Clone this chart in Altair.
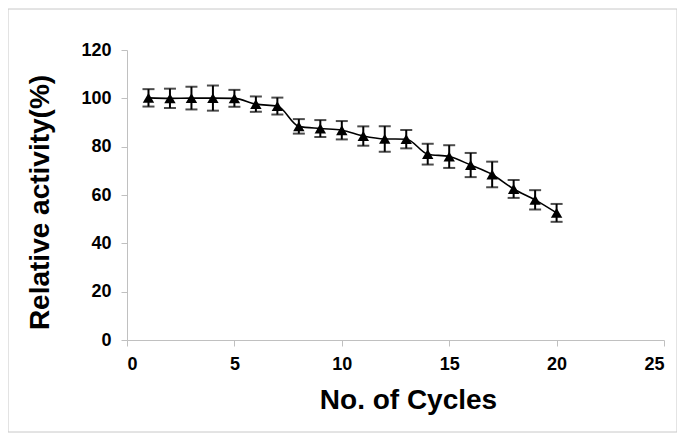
import altair as alt
import pandas as pd

cycles = list(range(1, 21))
activity = [100.2, 100.0, 100.1, 100.1, 100.0, 97.6, 96.8, 88.4, 87.5, 86.8,
            84.4, 83.2, 83.1, 76.9, 75.9, 72.4, 68.5, 62.5, 58.0, 52.6]
err = [3.6, 4.0, 4.7, 5.2, 3.5, 3.2, 3.5, 3.0, 3.5, 3.8,
       4.0, 5.3, 3.8, 4.3, 4.7, 5.0, 5.3, 3.7, 4.0, 3.7]

df = pd.DataFrame({"cycle": cycles, "act": activity, "err": err})
df["lo"] = df["act"] - df["err"]
df["hi"] = df["act"] + df["err"]

W, H = 537, 290
FONT = "Liberation Sans"

xs = alt.Scale(domain=[0, 25], nice=False)
ys = alt.Scale(domain=[0, 120], nice=False)

xax = alt.Axis(values=[0, 5, 10, 15, 20, 25], title="No. of Cycles", grid=False,
               domainColor="#c0c0c0", tickColor="#c0c0c0", tickSize=6,
               labelFont=FONT, labelFontSize=18, labelFontWeight="bold", labelColor="black",
               labelPadding=9, titleFont=FONT, titleFontSize=28, titleFontWeight="bold",
               titleColor="black", titlePadding=13, titleX=281)
yax = alt.Axis(values=[0, 20, 40, 60, 80, 100, 120], title="Relative activity(%)", grid=False,
               domainColor="#c0c0c0", tickColor="#c0c0c0", tickSize=6,
               labelFont=FONT, labelFontSize=18, labelFontWeight="bold", labelColor="black",
               labelPadding=10, titleFont=FONT, titleFontSize=28, titleFontWeight="bold",
               titleColor="black", titlePadding=26, titleY=152)

base = alt.Chart(df)

line = base.mark_line(color="black", strokeWidth=1.6, interpolate="monotone").encode(
    x=alt.X("cycle:Q", scale=xs, axis=xax),
    y=alt.Y("act:Q", scale=ys, axis=yax),
)
rules = base.mark_rule(color="black", strokeWidth=2).encode(
    x="cycle:Q", y="lo:Q", y2="hi:Q")
cap_lo = base.mark_tick(color="black", orient="horizontal", size=12, thickness=2).encode(
    x="cycle:Q", y="lo:Q")
cap_hi = base.mark_tick(color="black", orient="horizontal", size=12, thickness=2).encode(
    x="cycle:Q", y="hi:Q")
pts = base.mark_point(shape="triangle-up", filled=True, color="black", size=130, opacity=1).encode(
    x="cycle:Q", y="act:Q")

frame = alt.Chart(pd.DataFrame({"k": [0]})).mark_rect(
    fill=None, stroke="#c8c8c8", strokeWidth=1).encode(
    x=alt.value(-119), x2=alt.value(W + 13), y=alt.value(-41), y2=alt.value(H + 92))

chart = alt.layer(frame, line, rules, cap_lo, cap_hi, pts).properties(
    width=W, height=H,
    autosize=alt.AutoSizeParams(type="none"),
    padding={"left": 119, "top": 42, "right": 13, "bottom": 93},
).configure_view(stroke=None)

chart.save("out.html", embed_options={"renderer": "svg", "actions": False})
